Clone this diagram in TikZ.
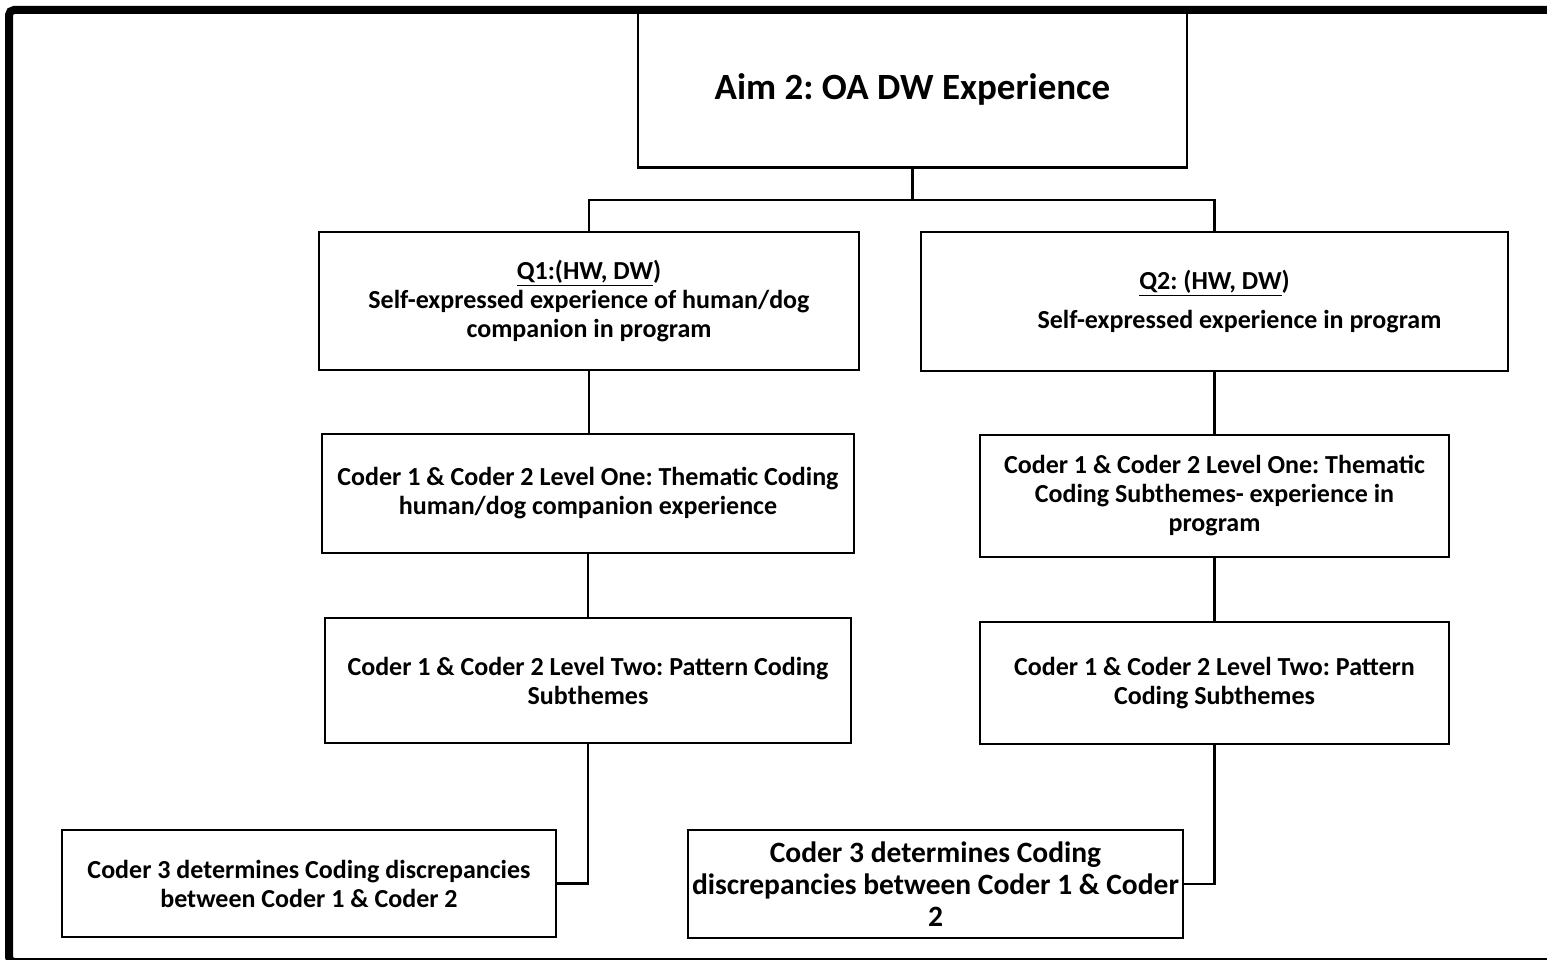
\documentclass[tikz,border=0pt]{standalone}
\usepackage{fontspec}
\setmainfont{Carlito}
\frenchspacing
\begin{document}
\begin{tikzpicture}[x=1pt,y=-1pt,
  box/.style={draw=black,line width=2.4pt,rectangle,align=center,inner sep=0pt,
              font=\fontsize{26}{29}\selectfont\bfseries},
  link/.style={draw=black,line width=2.4pt}]
\useasboundingbox (0,0) rectangle (1547,960);
% outer frame (right side runs off the page)
\begin{scope}
\clip (0,0) rectangle (1547,960);
\draw[line width=8pt,rounded corners=5pt] (9,10) rectangle (1600,962);
\end{scope}

% boxes
\node[box,minimum width=549pt,minimum height=157pt,font=\fontsize{37}{40}\selectfont\bfseries]
  (aim) at (912.5,89) {Aim 2: OA DW Experience};
\node[box,minimum width=540pt,minimum height=138pt] (q1) at (589,301)
  {\underline{Q1:(HW, DW})\\Self-expressed experience of human/dog\\companion in program};
\node[box,minimum width=587pt,minimum height=139pt] (q2) at (1214.5,301.5)
  {\underline{Q2: (HW, DW})\\[10pt]\hspace*{50pt}Self-expressed experience in program};
\node[box,minimum width=532pt,minimum height=119pt] (l2) at (588,493.5)
  {Coder 1 \& Coder 2 Level One: Thematic Coding\\human/dog companion experience};
\node[box,minimum width=469pt,minimum height=122pt] (r2) at (1214.5,496)
  {Coder 1 \& Coder 2 Level One: Thematic\\Coding Subthemes- experience in\\program};
\node[box,minimum width=526pt,minimum height=125pt] (l3) at (588,680.5)
  {Coder 1 \& Coder 2 Level Two: Pattern Coding\\Subthemes};
\node[box,minimum width=469pt,minimum height=122pt] (r3) at (1214.5,683)
  {Coder 1 \& Coder 2 Level Two: Pattern\\Coding Subthemes};
\node[box,minimum width=494pt,minimum height=107pt] (l4) at (309,883.5)
  {Coder 3 determines Coding discrepancies\\between Coder 1 \& Coder 2};
\node[box,minimum width=495pt,minimum height=108pt,font=\fontsize{29.5}{32}\selectfont\bfseries]
  (r4) at (935.5,884)
  {Coder 3 determines Coding\\discrepancies between Coder 1 \& Coder\\2};

% connectors
\coordinate (split) at (912.5,200);
\draw[link] (aim.south) -- (split);
\draw[link] (split) -| (q1.north);
\draw[link] (split) -| (q2.north);
\draw[link] (q1.south) -- (q1.south |- l2.north);
\draw[link] (l2.south) -- (l2.south |- l3.north);
\draw[link] (l3.south) |- (l4.east);
\draw[link] (q2.south) -- (q2.south |- r2.north);
\draw[link] (r2.south) -- (r2.south |- r3.north);
\draw[link] (r3.south) |- (r4.east);
\end{tikzpicture}
\end{document}
